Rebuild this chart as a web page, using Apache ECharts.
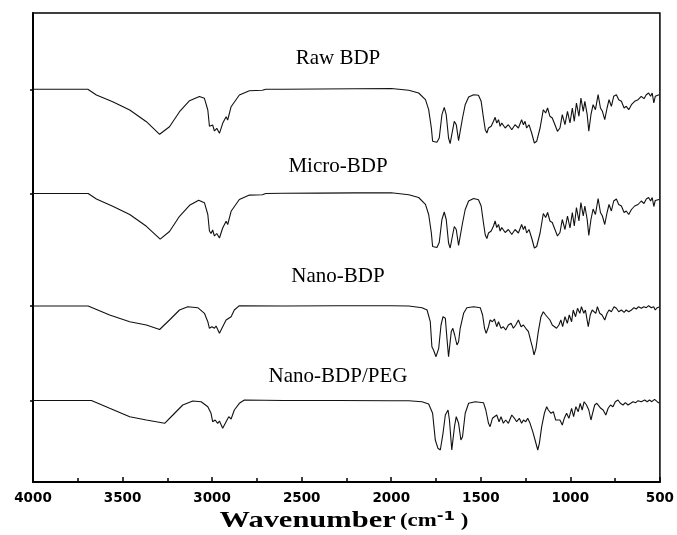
<!DOCTYPE html>
<html><head><meta charset="utf-8">
<script src="https://cdn.jsdelivr.net/npm/echarts@6/dist/echarts.min.js"></script>
<style>html,body{margin:0;padding:0;background:#fff}#c{width:677px;height:535px}</style>
</head><body><div id="c"></div>
<script>
// Series labels
var seriesNames = ['Raw BDP', 'Micro-BDP', 'Nano-BDP', 'Nano-BDP/PEG'];
var xTicks = [500, 1000, 1500, 2000, 2500, 3000, 3500, 4000];

// Raw BDP: wavenumber (cm-1) and relative transmittance (a.u., 0 = baseline)
var rawWn = [4000,3694,3646,3555,3460,3367,3293,3238,3182,3126,3071,3043,3024,3015,3006,2997,2987,2974,2959,2941,2922,2913,2894,2848,2792,2720,2700,2600,2400,2200,2000,1902,1847,1809,1791,1776,1769,1745,1732,1717,1704,1693,1680,1671,1662,1648,1637,1624,1614,1602,1587,1568,1540,1513,1498,1485,1475,1466,1457,1442,1429,1420,1411,1401,1392,1383,1364,1346,1327,1309,1290,1272,1262,1253,1244,1231,1216,1201,1188,1169,1151,1138,1127,1114,1101,1086,1072,1058,1045,1030,1016,1002,989,978,966,952,941,928,919,906,897,885,873,860,845,832,821,808,795,784,771,758,743,730,715,700,688,674,659,641,622,604,589,576,563,552,543,534,526,515,505];
var rawT  = [0,0,-5.7,-12.4,-20.7,-32.4,-45,-37.4,-22.4,-11.4,-7.2,-9,-20.7,-37,-39,-35.7,-41.7,-39,-44,-34,-27.4,-30.7,-17.4,-5.7,-1.4,-1,0,0,0.3,0.6,0.8,-1,-3.7,-10.4,-20.4,-38.7,-52,-53,-48.7,-25.4,-18,-25.4,-48.7,-54.4,-45.4,-32,-35.4,-51.4,-50.4,-28.7,-15.4,-7.7,-5.4,-6,-12,-28.7,-40.4,-43.7,-38.7,-37,-32,-28,-33.7,-30.4,-37,-33.7,-38.7,-35.4,-40.4,-35.4,-38.7,-30.4,-35.4,-32,-38.7,-35.4,-43.7,-53.7,-52,-38.7,-20.4,-23.7,-18.7,-27,-28.7,-35.4,-42,-38.7,-25.4,-35.4,-22,-33.7,-18.7,-32,-13.7,-27,-8.7,-22,-12,-25.4,-42,-25.4,-15.4,-20.4,-5.4,-18.7,-22,-30.4,-18.7,-10.4,-17,-7,-5.4,-10.4,-12,-18.7,-17,-20.4,-15.4,-12,-10.4,-7,-9.4,-5.4,-3.7,-7,-3.7,-13.7,-7,-7,-5.4];

// Micro-BDP
var microWn = [4000,3692,3646,3555,3460,3367,3290,3238,3182,3126,3075,3043,3024,3015,3006,2997,2987,2974,2959,2941,2922,2913,2894,2848,2792,2720,2700,2600,2400,2200,2000,1902,1847,1809,1791,1776,1769,1745,1732,1717,1704,1693,1680,1671,1662,1648,1637,1624,1614,1602,1587,1568,1540,1513,1498,1485,1475,1466,1457,1442,1429,1420,1411,1401,1392,1383,1364,1346,1327,1309,1290,1272,1262,1253,1244,1231,1216,1201,1188,1169,1151,1138,1127,1114,1101,1086,1072,1058,1045,1030,1016,1002,989,978,966,952,941,928,919,906,897,885,873,860,845,832,821,808,795,784,771,758,743,730,715,700,688,674,659,641,622,604,589,576,563,552,543,534,526,515,505];
var microT  = [0,0,-5.5,-12.8,-21,-32.8,-45.7,-38,-22.8,-11.8,-6.7,-9.2,-21,-37.5,-40,-36.5,-42.5,-40,-44.5,-34.5,-27.8,-31,-17.8,-6,-1.6,-1.2,0,0.2,0.4,0.6,0.7,-1.2,-4,-10.8,-21,-39.5,-53,-54,-49,-26,-18.5,-26,-49.5,-54.5,-46,-33,-36,-52,-51,-29.5,-16,-7.5,-5,-6.2,-12.5,-29.5,-41.5,-45,-39.5,-37.5,-32.5,-27.5,-34,-31,-37.5,-34,-39,-36,-41,-36,-39.5,-31,-36,-32.5,-39.5,-36,-44.5,-54.5,-53,-39.5,-20,-24,-19,-27.5,-29,-36,-42.5,-39,-26,-36,-22.5,-34.5,-19,-32.5,-14,-27.5,-9,-22.5,-12.5,-26,-42,-26,-15.5,-21,-5,-19,-22.5,-31,-19,-11,-17.5,-7.5,-5.5,-11,-12.5,-19,-17.5,-21,-16,-12.5,-11,-7.5,-10,-5.5,-4,-7.5,-4,-13,-7,-7.5,-6];

// Nano-BDP
var nanoWn = [4000,3692,3572,3460,3367,3293,3238,3182,3136,3080,3043,3024,3015,3001,2987,2978,2959,2941,2922,2913,2894,2876,2848,2600,2300,2000,1902,1828,1800,1782,1773,1764,1750,1735,1722,1711,1698,1689,1680,1675,1665,1656,1646,1633,1624,1615,1596,1578,1540,1503,1490,1479,1470,1457,1448,1435,1424,1411,1401,1387,1374,1361,1346,1331,1318,1305,1290,1275,1262,1249,1234,1220,1210,1203,1192,1179,1164,1151,1138,1127,1114,1101,1090,1077,1064,1053,1043,1030,1017,1006,993,984,971,960,947,938,925,916,900,889,878,867,858,849,836,823,808,795,784,771,756,743,730,715,700,688,674,659,645,632,619,604,589,576,563,548,535,526,515,505];
var nanoT  = [0,0,-9,-15.7,-19,-23.5,-14,-4,-0.7,-1.7,-7.3,-15.7,-22.3,-20.7,-22.3,-20,-27.3,-20.7,-14,-15.7,-10.7,-4,0.3,0,0.3,0.3,0,-1.7,-4,-15.7,-40.7,-44,-50.7,-42.3,-19,-10.7,-12.3,-32.3,-50.7,-49,-25.7,-22.3,-29,-39,-35.7,-22.3,-7.3,-1.7,-0.7,-1.7,-9,-22.3,-27.3,-20.7,-14,-15.7,-13,-20.7,-15.7,-22.3,-20.7,-24,-19,-17.3,-22.3,-19,-14,-20.7,-19,-22.3,-25.7,-35.7,-42.3,-49,-42.3,-25.7,-10.7,-5.7,-9,-7.3,-14,-19,-17.3,-22.3,-19,-14,-20.7,-10.7,-17.3,-9,-15.7,-4,-10.7,-2.3,-7.3,-0.7,-7.3,-4,-20.7,-9,-4,-2.3,-7.3,-0.7,-7.3,-9,-14,-7.3,-4,-5.7,-0.7,-2.3,-5.7,-4,-6.3,-4,-5.7,-4,-1.7,-3,-0.7,-2.3,-0.7,-1.7,0.3,-1.7,-0.7,-4,-1.7,-1];

// Nano-BDP/PEG
var pegWn = [4000,3674,3572,3460,3367,3265,3219,3164,3108,3061,3024,3006,2997,2983,2969,2959,2941,2922,2907,2894,2876,2848,2820,2600,2300,2000,1902,1828,1791,1769,1754,1739,1726,1711,1698,1683,1675,1662,1656,1647,1637,1624,1611,1602,1587,1568,1531,1485,1472,1457,1448,1435,1424,1411,1398,1387,1374,1361,1346,1327,1312,1300,1285,1272,1262,1249,1238,1225,1210,1197,1182,1173,1160,1145,1132,1123,1108,1095,1082,1071,1058,1045,1034,1021,1008,993,982,969,956,945,934,923,910,897,885,876,864,852,841,830,817,802,789,776,762,749,734,721,706,693,678,663,650,635,622,604,585,571,558,545,530,515,505];
var pegT  = [0,0,-7.8,-16.2,-19.5,-22.8,-14.5,-4.5,-0.5,-1.2,-6.2,-12.8,-21.2,-19.5,-22.8,-20.5,-27.8,-21.2,-16.2,-18.5,-9.5,-2.8,0.5,0,0,-0.2,-0.2,-1.2,-3.5,-12.8,-39.5,-47.8,-49.5,-32.8,-14.5,-9.5,-19.5,-49.5,-51.2,-26.2,-16.2,-22.8,-39.5,-36.2,-12.8,-2.8,-1.2,-2.2,-9.5,-22.8,-26.2,-17.8,-19.5,-14.5,-21.2,-16.2,-22.8,-19.5,-22.8,-14.5,-17.8,-21.2,-17.8,-22.8,-19.5,-21.2,-17.8,-22.8,-31.2,-39.5,-49.5,-42.8,-26.2,-12.8,-6.2,-9.5,-12.8,-11.2,-19.5,-21.2,-19.5,-24.5,-17.8,-12.8,-17.8,-7.8,-16.2,-6.2,-11.2,-2.8,-9.5,-1.2,-4.5,-9.5,-19.5,-12.8,-4.5,-2.8,-1.2,-7.8,-9.5,-14.5,-7.8,-4.5,-6.2,-1.2,0.5,-2.8,-4.5,-2.2,-4.5,-2.8,-1.2,-2.2,-0.2,-1.2,0.5,-1.2,0.5,-1.2,1.2,-1.2,-2.5];

var wnArrays = [rawWn, microWn, nanoWn, pegWn];
var tArrays = [rawT, microT, nanoT, pegT];
// vertical stacking: visible range of each trace's own y axis
var yMins = [-392.7, -288.5, -176, -81.5];
var yMaxs = [76.3, 180.5, 293, 387.5];

function zip(a, b) { return a.map(function (v, i) { return [v, b[i]]; }); }

var yAxes = [], series = [];
for (var i = 0; i < 4; i++) {
  yAxes.push({
    type: 'value', min: yMins[i], max: yMaxs[i], position: 'left',
    axisLine: { show: i === 0, onZero: false, lineStyle: { color: '#000', width: 2 } },
    axisTick: { show: true, inside: false, length: 3, customValues: [0], lineStyle: { color: '#000', width: 1.5 } },
    axisLabel: { show: false },
    splitLine: { show: false }
  });
  series.push({
    name: seriesNames[i], type: 'line', yAxisIndex: i,
    data: zip(wnArrays[i], tArrays[i]),
    showSymbol: false, symbol: 'none', smooth: false,
    lineStyle: { color: '#111', width: 1.1 },
    itemStyle: { color: '#111' },
    animation: false
  });
}

var labelYs = [58, 166, 276, 376];
var graphics = seriesNames.map(function (n, i) {
  return { type: 'text', x: 338, y: labelYs[i], style: { text: n, fontFamily: 'Liberation Serif', fontSize: 21, fill: '#000', textAlign: 'center', textVerticalAlign: 'middle' } };
});
graphics.push({
  type: 'text', x: 344, y: 521, scaleX: 1.27,
  style: {
    text: '{a|Wavenumber} {b|(cm}{s|-1}{b| )}',
    textAlign: 'center', textVerticalAlign: 'middle', fill: '#000',
    rich: {
      a: { fontFamily: 'Liberation Serif', fontWeight: 'bold', fontSize: 24, fill: '#000' },
      b: { fontFamily: 'Liberation Serif', fontWeight: 'bold', fontSize: 18, fill: '#000' },
      s: { fontFamily: 'DejaVu Sans', fontWeight: 'bold', fontSize: 13, fill: '#000', padding: [0, 0, 9, 0] }
    }
  }
});

var chart = echarts.init(document.getElementById('c'), null, { renderer: 'canvas' });
chart.setOption({
  animation: false,
  backgroundColor: '#fff',
  grid: { left: 33, right: 15, top: 13, bottom: 53, show: true, borderColor: '#000', borderWidth: 1.5, backgroundColor: 'transparent' },
  xAxis: {
    type: 'value', inverse: true, min: 500, max: 4000, interval: 500,
    axisLine: { onZero: false, lineStyle: { color: '#000', width: 2 } },
    axisTick: { inside: true, length: 5, lineStyle: { color: '#000', width: 1.5 } },
    minorTick: { show: true, splitNumber: 2, length: 4, lineStyle: { color: '#000', width: 1.5 } },
    splitLine: { show: false },
    axisLabel: { color: '#000', fontFamily: 'DejaVu Sans', fontWeight: 'bold', fontSize: 13.5, margin: 9,
      customValues: xTicks, formatter: function (v) { return String(v); } }
  },
  yAxis: yAxes,
  series: series,
  graphic: graphics
});
</script></body></html>
